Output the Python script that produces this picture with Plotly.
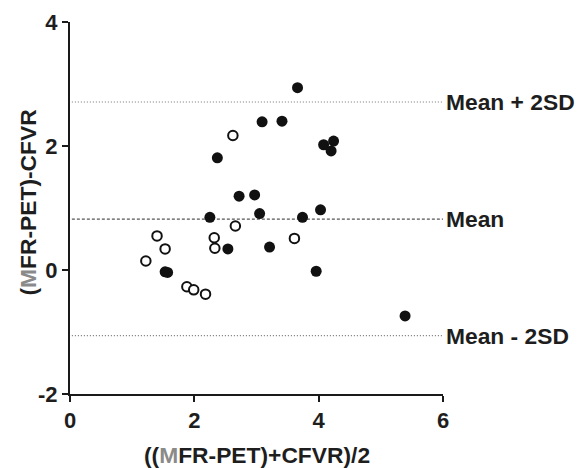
import plotly.graph_objects as go

# Filled (solid) points
filled_x = [3.66, 3.09, 3.41, 2.37, 4.08, 4.24, 4.20, 2.72, 2.97, 2.25, 3.05, 3.74, 4.03, 2.54, 3.21, 3.96, 5.39, 1.53, 1.57]
filled_y = [2.94, 2.39, 2.40, 1.81, 2.02, 2.08, 1.92, 1.19, 1.21, 0.85, 0.91, 0.85, 0.97, 0.34, 0.37, -0.02, -0.74, -0.03, -0.04]

# Open (hollow) points
open_x = [2.62, 2.66, 2.32, 2.33, 3.61, 1.40, 1.53, 1.22, 1.88, 1.99, 2.18]
open_y = [2.17, 0.71, 0.52, 0.35, 0.51, 0.55, 0.34, 0.145, -0.27, -0.32, -0.39]

mean_val = 0.82
upper_val = 2.71
lower_val = -1.06
line_labels = ["Mean + 2SD", "Mean", "Mean - 2SD"]

x_ticks = [0, 2, 4, 6]
x_tick_labels = ["0", "2", "4", "6"]
y_ticks = [-2, 0, 2, 4]
y_tick_labels = ["-2", "0", "2", "4"]

TXT = "#1e1e1e"
FONT = "Liberation Sans, Arial, sans-serif"

fig = go.Figure()

fig.add_trace(go.Scatter(
    x=open_x, y=open_y, mode="markers",
    marker=dict(size=9.5, color="white", line=dict(color="#111111", width=2)),
    showlegend=False, cliponaxis=False))
fig.add_trace(go.Scatter(
    x=filled_x, y=filled_y, mode="markers",
    marker=dict(size=11, color="#111111", line=dict(width=0)),
    showlegend=False, cliponaxis=False))

for val, dash, col in [(upper_val, "1px,2px", "#777777"), (mean_val, "3px,2px", "#555555"), (lower_val, "1px,2px", "#777777")]:
    fig.add_shape(type="line", xref="x", yref="y", x0=0.03, x1=6, y0=val, y1=val,
                  line=dict(color=col, width=1.2, dash=dash), layer="below")

for val, lab in zip([upper_val, mean_val, lower_val], line_labels):
    fig.add_annotation(x=6, y=val, xref="x", yref="y", text=lab, showarrow=False,
                       xanchor="left", yanchor="middle", xshift=1,
                       font=dict(family=FONT, size=22.8, color=TXT, weight="bold"))

# Axis titles as annotations
fig.add_annotation(xref="paper", yref="paper",
                   x=0.5, y=-(455 - 394) / (394 - 22),
                   text='<b>((<span style="color:#8a8a8a">M</span>FR-PET)+CFVR)/2</b>',
                   showarrow=False, xanchor="center", yanchor="middle",
                   font=dict(family=FONT, size=22.8, color=TXT))
fig.add_annotation(xref="paper", yref="paper",
                   x=-(70 - 27.5) / (443 - 70), y=(394 - 203) / (394 - 22),
                   text='<b>(<span style="color:#8a8a8a">M</span>FR-PET)-CFVR</b>',
                   showarrow=False, xanchor="center", yanchor="middle", textangle=-90,
                   font=dict(family=FONT, size=22.8, color=TXT))

fig.update_xaxes(range=[0, 6], tickvals=x_ticks, ticktext=x_tick_labels,
                 showline=True, linecolor="#1a1a1a", linewidth=2,
                 ticks="outside", ticklen=6, tickwidth=2, tickcolor="#1a1a1a",
                 showgrid=False, zeroline=False, automargin=False,
                 tickfont=dict(family=FONT, size=22, color=TXT, weight="bold"))
fig.update_yaxes(range=[-2, 4], tickvals=y_ticks, ticktext=y_tick_labels,
                 showline=True, linecolor="#1a1a1a", linewidth=2,
                 ticks="outside", ticklen=6, tickwidth=2, tickcolor="#1a1a1a",
                 showgrid=False, zeroline=False, automargin=False,
                 tickfont=dict(family=FONT, size=22, color=TXT, weight="bold"))

fig.update_layout(width=578, height=468, margin=dict(l=70, r=135, t=22, b=74, autoexpand=False),
                  plot_bgcolor="white", paper_bgcolor="white")

fig.write_html("out.html", config={"displayModeBar": False},
               post_script="document.body.style.margin='0';")
